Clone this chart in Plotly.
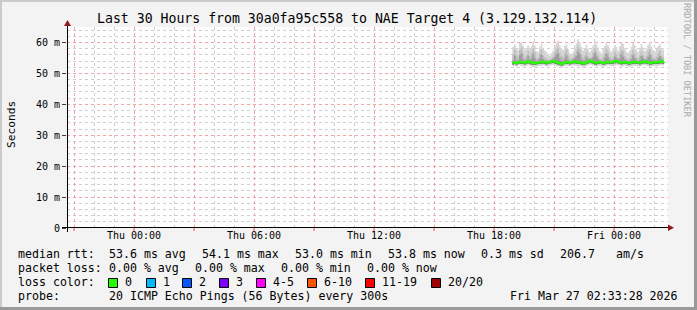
import plotly.graph_objects as go
import pandas as pd

# ---------------- data ----------------
median_rtt = [
    53.4, 53.5, 53.3, 53.6, 53.8, 53.7, 53.5, 53.4, 53.6, 53.9,
    53.7, 53.5, 53.3, 53.2, 53.4, 53.6, 53.5, 53.7, 53.8, 53.6,
    53.4, 53.5, 53.7, 53.9, 54.0, 53.8, 53.6, 53.4, 53.3, 53.0,
    53.2, 53.5, 53.7, 53.6, 53.4, 53.5, 53.8, 53.9, 53.7, 53.5,
    53.6, 53.4, 53.2, 53.3, 53.6, 53.8, 54.1, 53.9, 53.7, 53.5,
    53.4, 53.6, 53.7, 53.5, 53.3, 53.4, 53.6, 53.8, 53.7, 53.5,
    53.6, 53.9, 54.0, 53.8, 53.6, 53.4, 53.5, 53.7, 53.6, 53.4,
    53.3, 53.5, 53.7, 53.8, 53.6, 53.5, 53.4, 53.6, 53.8, 53.9,
    53.7, 53.5, 53.3, 53.4, 53.6, 53.7, 53.5, 53.6, 53.8, 53.9,
    53.7, 53.8,
]
smoke_max = [
    58.6, 59.4, 58.2, 57.5, 59.8, 60.2, 58.9, 57.6, 58.3, 59.1,
    57.9, 58.8, 60.4, 59.0, 57.2, 56.8, 58.5, 59.6, 58.1, 57.4,
    56.9, 56.2, 55.8, 56.5, 57.3, 58.7, 59.9, 60.6, 59.2, 58.0,
    57.6, 58.9, 59.5, 57.8, 56.6, 56.1, 57.0, 58.4, 59.7, 61.0,
    60.1, 58.6, 57.5, 58.2, 59.3, 58.0, 56.9, 57.7, 59.0, 60.5,
    59.4, 58.3, 57.1, 56.4, 57.8, 58.9, 60.2, 59.1, 57.6, 56.8,
    57.9, 59.2, 58.5, 57.3, 58.8, 60.0, 59.6, 58.1, 57.0, 56.5,
    57.4, 58.6, 59.8, 59.0, 57.7, 56.9, 58.3, 59.5, 58.4, 57.2,
    58.0, 59.3, 60.1, 58.7, 57.5, 56.8, 57.9, 58.8, 59.4, 58.1,
    57.6, 58.5,
]
smoke_upper = [
    56.2, 57.8, 56.0, 55.4, 57.5, 58.3, 56.4, 55.1, 55.9, 57.2,
    55.6, 56.7, 58.1, 56.9, 54.9, 55.0, 56.3, 57.6, 55.8, 55.2,
    54.8, 54.6, 54.5, 54.9, 55.5, 56.8, 57.9, 58.4, 56.7, 55.6,
    55.3, 56.5, 57.7, 55.9, 54.8, 54.7, 55.2, 56.1, 57.4, 58.8,
    57.9, 56.2, 55.1, 55.8, 57.0, 55.6, 55.0, 55.4, 56.8, 58.2,
    57.1, 55.9, 54.9, 54.6, 55.4, 56.6, 58.0, 56.8, 55.3, 54.9,
    55.5, 57.0, 56.2, 55.1, 56.5, 57.8, 57.2, 55.7, 54.8, 54.6,
    55.0, 56.3, 57.5, 56.6, 55.3, 54.8, 55.9, 57.1, 56.0, 55.0,
    55.7, 57.0, 57.9, 56.3, 55.2, 54.7, 55.5, 56.4, 57.2, 55.8,
    55.3, 56.1,
]
smoke_inner = [
    54.2, 55.6, 54.0, 54.3, 55.9, 56.4, 54.6, 54.0, 54.5, 55.8,
    54.4, 54.9, 56.2, 55.0, 53.9, 54.2, 54.8, 56.0, 54.6, 54.2,
    53.9, 54.0, 54.1, 54.4, 54.7, 55.3, 56.1, 56.5, 54.9, 54.1,
    53.9, 54.7, 55.9, 54.3, 54.0, 54.0, 54.5, 55.0, 55.6, 57.0,
    56.1, 54.6, 53.9, 54.2, 55.4, 54.5, 54.8, 54.6, 55.2, 56.6,
    55.5, 54.6, 54.2, 54.0, 54.0, 55.0, 56.3, 55.2, 54.3, 54.0,
    54.3, 55.5, 55.0, 54.4, 54.8, 56.1, 55.4, 54.5, 54.1, 53.9,
    54.0, 54.6, 55.9, 55.0, 54.2, 54.0, 54.4, 55.6, 54.8, 54.5,
    54.4, 55.2, 56.0, 54.6, 54.3, 54.2, 54.1, 54.9, 55.6, 54.7,
    54.3, 54.9,
]
smoke_lower = [
    52.9, 53.0, 52.8, 53.1, 53.2, 53.1, 53.0, 52.9, 53.0, 53.3,
    53.1, 52.9, 52.8, 52.7, 52.9, 53.1, 53.0, 53.1, 53.2, 53.0,
    52.9, 53.0, 53.2, 53.3, 53.4, 53.2, 53.0, 52.8, 52.8, 52.5,
    52.7, 53.0, 53.1, 53.0, 52.9, 53.0, 53.2, 53.3, 53.1, 53.0,
    53.1, 52.9, 52.7, 52.8, 53.0, 53.2, 53.5, 53.3, 53.1, 52.9,
    52.9, 53.0, 53.1, 53.0, 52.8, 52.9, 53.0, 53.2, 53.1, 53.0,
    53.0, 53.3, 53.4, 53.2, 53.0, 52.9, 53.0, 53.1, 53.0, 52.9,
    52.8, 53.0, 53.1, 53.2, 53.0, 53.0, 52.9, 53.0, 53.2, 53.3,
    53.1, 53.0, 52.8, 52.9, 53.0, 53.1, 53.0, 53.0, 53.2, 53.3,
    53.1, 53.2,
]
smoke_min = [
    52.3, 52.4, 52.1, 52.5, 52.6, 52.4, 52.3, 52.2, 52.4, 52.7,
    52.5, 52.3, 52.1, 52.0, 52.2, 52.4, 52.3, 52.5, 52.6, 52.4,
    52.2, 52.3, 52.5, 52.7, 52.8, 52.6, 52.4, 52.2, 52.1, 51.9,
    52.0, 52.3, 52.5, 52.4, 52.2, 52.3, 52.6, 52.7, 52.5, 52.3,
    52.4, 52.2, 52.0, 52.1, 52.4, 52.6, 52.9, 52.7, 52.5, 52.3,
    52.2, 52.4, 52.5, 52.3, 52.1, 52.2, 52.4, 52.6, 52.5, 52.3,
    52.4, 52.7, 52.8, 52.6, 52.4, 52.2, 52.3, 52.5, 52.4, 52.2,
    52.1, 52.3, 52.5, 52.6, 52.4, 52.3, 52.2, 52.4, 52.6, 52.7,
    52.5, 52.3, 52.1, 52.2, 52.4, 52.5, 52.3, 52.4, 52.6, 52.7,
    52.5, 52.6,
]
first_sample = "2026-03-26 18:55"
step = "5min"

x_major_ticks = ["2026-03-25 21:00", "2026-03-26 00:00", "2026-03-26 03:00", "2026-03-26 06:00",
                 "2026-03-26 09:00", "2026-03-26 12:00", "2026-03-26 15:00", "2026-03-26 18:00",
                 "2026-03-26 21:00", "2026-03-27 00:00"]
x_tick_labels = ["", "Thu 00:00", "", "Thu 06:00", "", "Thu 12:00", "", "Thu 18:00", "", "Fri 00:00"]
y_tick_vals = [0, 10, 20, 30, 40, 50, 60]
y_tick_labels = ["0", "10 m", "20 m", "30 m", "40 m", "50 m", "60 m"]

title_text = "Last 30 Hours from 30a0fa95c558 to NAE Target 4 (3.129.132.114)"
loss_labels = ["0", "1", "2", "3", "4-5", "6-10", "11-19", "20/20"]
loss_colors = ["#26ff00", "#00b8ff", "#0059ff", "#7e00ff", "#ff00ff", "#ff5500", "#ff0000", "#a10000"]

# ---------------- layout geometry ----------------
W, H = 697, 310
L, R, T, B = 67, 29, 27, 82
PW, PH = W - L - R, H - T - B
MONO = "DejaVu Sans Mono"


def px(x):
    return (x - L) / PW


def py(y):
    return (H - B - y) / PH


times = pd.date_range(first_sample, periods=len(median_rtt), freq=step)

fig = go.Figure()
common = dict(mode="lines", hoverinfo="skip", showlegend=False)


def band(lo, hi, color):
    fig.add_trace(go.Scatter(x=times, y=lo, line=dict(width=0, shape="hv"), **common))
    fig.add_trace(go.Scatter(x=times, y=hi, line=dict(width=0, shape="hv"),
                             fill="tonexty", fillcolor=color, **common))


band(smoke_min, smoke_max, "#d6d6d6")
band(smoke_lower, smoke_upper, "#bdbdbd")
band(smoke_lower, smoke_inner, "#9c9c9c")
band(smoke_lower, median_rtt, "#6a6a6a")
fig.add_trace(go.Scatter(x=times, y=median_rtt, line=dict(width=2, shape="hv", color=loss_colors[0]),
                         **common))

minor_x = pd.date_range("2026-03-25 21:00", "2026-03-27 02:00", freq="1h")

fig.update_xaxes(
    type="date",
    range=["2026-03-25 20:39:00", "2026-03-27 02:42:00"],
    tickmode="array", tickvals=x_major_ticks, ticktext=x_tick_labels,
    showgrid=True, gridcolor="#f4a4a4", griddash="dot", gridwidth=1,
    ticks="",
    tickfont=dict(family=MONO, size=10, color="#000000"),
    minor=dict(tickmode="array", tickvals=list(minor_x), showgrid=True,
               gridcolor="#cfcfcf", griddash="dot", gridwidth=1, ticks=""),
    showline=False, zeroline=False, fixedrange=True,
)
fig.update_yaxes(
    range=[0, 65],
    tickmode="array", tickvals=y_tick_vals, ticktext=y_tick_labels,
    showgrid=True, gridcolor="#f4a4a4", griddash="dot", gridwidth=1,
    ticks="outside", ticklen=4, tickcolor="#404040", tickwidth=1,
    tickfont=dict(family=MONO, size=10, color="#000000"),
    minor=dict(tickmode="array", tickvals=list(range(2, 65, 2)), showgrid=True,
               gridcolor="#cfcfcf", griddash="dot", gridwidth=1, ticks=""),
    showline=False, zeroline=False, fixedrange=True,
)

shapes = []
# small red tick marks under the time axis
for tv in x_major_ticks:
    shapes.append(dict(type="line", xref="x", yref="paper", x0=tv, x1=tv, y0=py(228), y1=py(231),
                       line=dict(color="#ff5050", width=1), layer="above"))
# frame shading
shapes.append(dict(type="rect", xref="paper", yref="paper", x0=px(0), x1=px(W), y0=py(0), y1=py(2),
                   fillcolor="#cbcbcb", line=dict(width=0), layer="above"))
shapes.append(dict(type="rect", xref="paper", yref="paper", x0=px(0), x1=px(2), y0=py(0), y1=py(H),
                   fillcolor="#cbcbcb", line=dict(width=0), layer="above"))
shapes.append(dict(type="rect", xref="paper", yref="paper", x0=px(W - 3), x1=px(W), y0=py(0), y1=py(H),
                   fillcolor="#999999", line=dict(width=0), layer="above"))
shapes.append(dict(type="rect", xref="paper", yref="paper", x0=px(0), x1=px(W), y0=py(H - 3), y1=py(H),
                   fillcolor="#999999", line=dict(width=0), layer="above"))
# axes lines
shapes.append(dict(type="line", xref="paper", yref="paper", x0=px(67.5), x1=px(67.5), y0=py(232), y1=py(24),
                   line=dict(color="#000000", width=1), layer="above"))
shapes.append(dict(type="line", xref="paper", yref="paper", x0=px(62), x1=px(669), y0=py(227.5), y1=py(227.5),
                   line=dict(color="#000000", width=1), layer="above"))
# arrows
shapes.append(dict(type="path", xref="paper", yref="paper",
                   path=f"M {px(64)} {py(26)} L {px(71)} {py(26)} L {px(67.5)} {py(20)} Z",
                   fillcolor="#8b1a1a", line=dict(width=0), layer="above"))
shapes.append(dict(type="path", xref="paper", yref="paper",
                   path=f"M {px(668)} {py(224.5)} L {px(668)} {py(231)} L {px(674)} {py(227.75)} Z",
                   fillcolor="#8b1a1a", line=dict(width=0), layer="above"))

annotations = []


def text(x, y, s, size=11.6, color="#000000", xanchor="left", angle=0):
    annotations.append(dict(x=px(x), y=py(y), xref="paper", yref="paper", text=s.replace(" ", "\u00a0"),
                            showarrow=False, xanchor=xanchor, yanchor="middle", textangle=angle,
                            font=dict(family=MONO, size=size, color=color)))


text(347, 19, title_text, size=13.2, xanchor="center")
text(11, 125, "Seconds", size=11.2, xanchor="center", angle=-90)
text(687, 60, "RRDTOOL / TOBI OETIKER", size=8.6, color="#aaaaaa", xanchor="center", angle=90)

# legend rows
text(16, 254, "median rtt:")
for xx, s in [(107, "53.6 ms avg"), (200, "54.1 ms max"), (293, "53.0 ms min"), (386, "53.8 ms now"),
              (479, "0.3 ms sd"), (558, "206.7"), (614, "am/s")]:
    text(xx, 254, s)
text(16, 268, "packet loss:")
for xx, s in [(107, "0.00 % avg"), (193, "0.00 % max"), (279, "0.00 % min"), (365, "0.00 % now")]:
    text(xx, 268, s)
text(16, 282, "loss color:")
box_x = [108, 146, 182, 219, 256, 307, 365, 431]
for bx, lab, col in zip(box_x, loss_labels, loss_colors):
    shapes.append(dict(type="rect", xref="paper", yref="paper", x0=px(bx + 0.5), x1=px(bx + 9.5),
                       y0=py(287.5), y1=py(278.5), fillcolor=col, line=dict(color="#000000", width=1),
                       layer="above"))
    text(bx + 15, 282, lab)
text(16, 296, "probe:")
text(107, 296, "20 ICMP Echo Pings (56 Bytes) every 300s")
text(680, 296, "Fri Mar 27 02:33:28 2026", xanchor="right")

fig.update_layout(
    width=W, height=H,
    margin=dict(l=L, r=R, t=T, b=B, pad=0),
    paper_bgcolor="#f3f3f3", plot_bgcolor="#ffffff",
    showlegend=False,
    shapes=shapes, annotations=annotations,
)

fig.write_html("out.html")
